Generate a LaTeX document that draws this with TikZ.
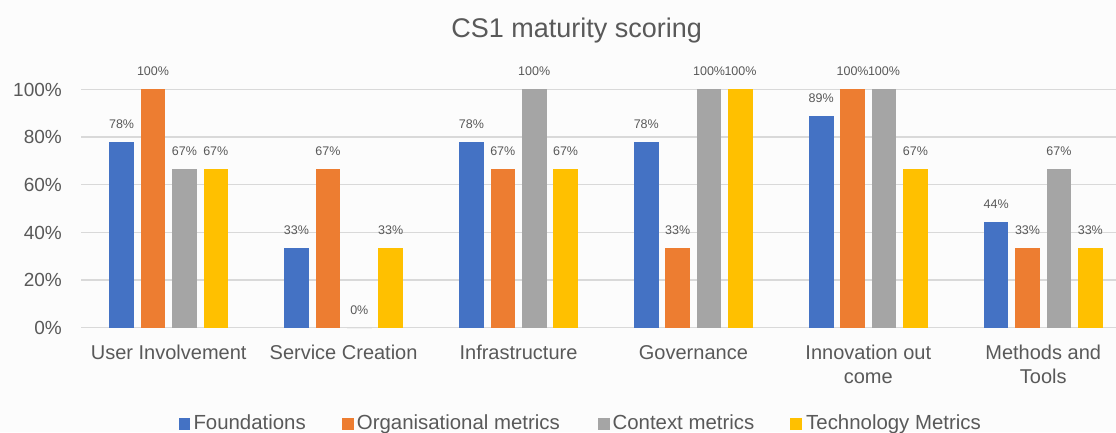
\documentclass[tikz,border=0pt]{standalone}
\usepackage{fontspec}
\setmainfont{Liberation Sans}
\definecolor{s0}{HTML}{4472C4}
\definecolor{s1}{HTML}{ED7D31}
\definecolor{s2}{HTML}{A5A5A5}
\definecolor{s3}{HTML}{FFC000}
\definecolor{txt}{HTML}{595959}
\definecolor{grid}{HTML}{D9D9D9}
\definecolor{bgc}{HTML}{FCFCFC}
\tikzset{
  vlab/.style={anchor=base, inner sep=0pt, text=txt, font=\fontsize{12.5}{15}\selectfont},
  ticklab/.style={anchor=base east, inner sep=0pt, text=txt, font=\fontsize{19}{23}\selectfont},
  catlab/.style={anchor=base, inner sep=0pt, text=txt, align=center, font=\fontsize{20}{23.3}\selectfont},
  leglab/.style={anchor=base west, inner sep=0pt, text=txt, font=\fontsize{20.4}{24}\selectfont},
  legkey/.style={inner sep=0pt, minimum size=11.5pt},
  titlelab/.style={anchor=base, inner sep=0pt, text=txt, font=\fontsize{27}{32}\selectfont},
  gridline/.style={draw=grid, line width=1.4pt}
}
\begin{document}
\begin{tikzpicture}[x=1pt,y=-1pt]
\useasboundingbox (0,0) rectangle (1116,432);
\fill[bgc] (0,0) rectangle (1116,432);
% title
\node[titlelab] (title) at (576.7,37.2) {CS1 maturity scoring};
% grid and ticks
\foreach \p [count=\i from 0] in {0,20,40,60,80,100} {
  \coordinate (gl\i) at (81,{327.5-2.382*\p});
  \coordinate (gr\i) at (1116,{327.5-2.382*\p});
  \draw[gridline] (gl\i) -- (gr\i);
  \node[ticklab] (tick\i) at (62,{327.5-2.382*\p+6.8}) {\p\%};
}
% bars
\foreach \g/\vals in {0/{77.78,100,66.67,66.67},1/{33.33,66.67,0,33.33},2/{77.78,66.67,100,66.67},3/{77.78,33.33,100,100},4/{88.89,100,100,66.67},5/{44.44,33.33,66.67,33.33}} {
  \pgfmathsetmacro{\cx}{168.7+174.9*\g}
  \foreach \v [count=\s from 0] in \vals {
    \pgfmathtruncatemacro{\lab}{round(\v)}
    \fill[s\s] ({\cx+(\s-1.5)*31.4-12.3},327.5) rectangle ++(24.6,{-2.382*\v});
    \node[vlab] (v\g\s) at ({\cx+(\s-1.5)*31.4},{327.5-2.382*\v-13.5}) {\lab\%};
  }
}
% category labels
\node[catlab] (c0) at (168.7,359.7) {User Involvement};
\node[catlab] (c1) at (343.6,359.7) {Service Creation};
\node[catlab] (c2) at (518.5,359.7) {Infrastructure};
\node[catlab] (c3) at (693.4,359.7) {Governance};
\node[catlab] (c4) at (868.3,383) {Innovation out\\come};
\node[catlab] (c5) at (1043.2,383) {Methods and\\Tools};
% legend
\node[legkey, fill=s0] (k0) at (184.5,424) {};
\node[leglab] (l0) at (193.3,429) {Foundations};
\node[legkey, fill=s1] (k1) at (348,424) {};
\node[leglab] (l1) at (356.7,429) {Organisational metrics};
\node[legkey, fill=s2] (k2) at (603.8,424) {};
\node[leglab] (l2) at (612.4,429) {Context metrics};
\node[legkey, fill=s3] (k3) at (796,424) {};
\node[leglab] (l3) at (806,429) {Technology Metrics};
\end{tikzpicture}
\end{document}
